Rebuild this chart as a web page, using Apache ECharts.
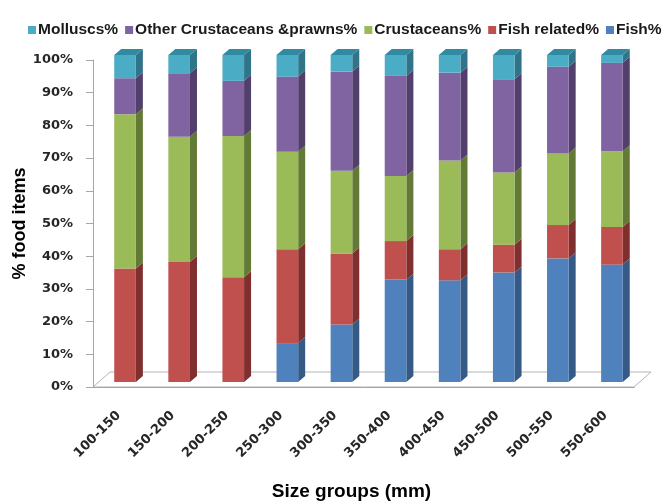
<!DOCTYPE html>
<html>
<head>
<meta charset="utf-8">
<script src="https://cdn.jsdelivr.net/npm/echarts@6/dist/echarts.min.js"></script>
<style>
    html, body { margin: 0; padding: 0; background: #fff; }
    #main { width: 664px; height: 501px; }
</style>
</head>
<body>
<div id="main"></div>
<script>
var categories = ['100-150', '150-200', '200-250', '250-300', '300-350', '350-400', '400-450', '450-500', '500-550', '550-600'];
var fish = [0, 0, 0, 11.9, 17.6, 31.3, 31.1, 33.5, 37.8, 35.9];
var fishRelated = [34.7, 36.7, 32.0, 28.7, 21.7, 11.8, 9.5, 8.5, 10.2, 11.5];
var crustaceans = [47.2, 38.3, 43.2, 29.8, 25.3, 19.9, 27.1, 22.1, 21.9, 23.2];
var otherCrust = [11.0, 19.4, 16.9, 23.0, 30.3, 30.6, 26.9, 28.5, 26.5, 27.0];
var molluscs = [7.1, 5.6, 7.9, 6.6, 5.1, 6.4, 5.4, 7.4, 3.6, 2.4];
var yTicks = [0, 10, 20, 30, 40, 50, 60, 70, 80, 90, 100];

// stack order bottom -> top
var stack = [
    {name: 'Fish%', values: fish, front: '#4f81bd', side: '#355a86'},
    {name: 'Fish related%', values: fishRelated, front: '#c0504d', side: '#7f2f2d'},
    {name: 'Crustaceans%', values: crustaceans, front: '#9bbb59', side: '#637a36'},
    {name: 'Other Crustaceans &prawns%', values: otherCrust, front: '#8064a2', side: '#523f6b'},
    {name: 'Molluscs%', values: molluscs, front: '#4bacc6', side: '#2f7488', top: '#2f8aa2'}
];

var G = {left: 93, right: 30, top: 60, bottom: 114};

function makeRender(front, side, top) {
    return function(params, api) {
        var idx = api.value(0), base = api.value(1), val = api.value(2);
        var p0 = api.coord([idx, base]);
        var p1 = api.coord([idx, base + val]);
        var band = api.size([1, 0])[0];
        var w = band * 0.4, dx = 7, dy = 6, sx = 5, sy = -5;
        var x0 = p0[0] + sx - w / 2, x1 = x0 + w;
        var yb = p0[1] + sy, yt = p1[1] + sy;
        var kids = [];
        if (val > 0) {
            kids.push({type: 'polygon', shape: {points: [[x1, yt], [x1 + dx, yt - dy], [x1 + dx, yb - dy], [x1, yb]]}, style: {fill: side}});
            kids.push({type: 'rect', shape: {x: x0, y: yt, width: w, height: yb - yt}, style: {fill: front}});
        }
        if (top) {
            kids.push({type: 'polygon', shape: {points: [[x0, yt], [x0 + dx, yt - dy], [x1 + dx, yt - dy], [x1, yt]]}, style: {fill: top}});
        }
        return {type: 'group', children: kids};
    };
}

var series = [];
var bases = categories.map(function() { return 0; });
stack.forEach(function(s) {
    var data = s.values.map(function(v, j) {
        var item = [j, bases[j], v];
        bases[j] += v;
        return item;
    });
    series.push({
        name: s.name,
        type: 'custom',
        renderItem: makeRender(s.front, s.side, s.top),
        itemStyle: {color: s.front},
        encode: {x: 0, y: 2},
        data: data
    });
});

var chart = echarts.init(document.getElementById('main'));
var fx = 664 - G.right;
var fy = 501 - G.bottom;
chart.setOption({
    animation: false,
    legend: {
        data: stack.map(function(s) { return s.name; }).reverse(),
        left: 23,
        top: 15,
        width: 660,
        icon: 'rect',
        itemWidth: 8,
        itemHeight: 8,
        itemGap: 7,
        textStyle: {
            fontFamily: '"Liberation Sans", Arial',
            fontWeight: 'bold',
            fontSize: 15.5,
            lineHeight: 20,
            color: '#1a1a1a',
            padding: [0, 0, 0, -3]
        }
    },
    grid: {left: G.left, right: G.right, top: G.top, bottom: G.bottom, outerBoundsMode: 'none'},
    graphic: [{
        type: 'polygon',
        z: 0,
        shape: {points: [[G.left, fy], [G.left + 17, fy - 15], [fx + 17, fy - 15], [fx, fy]]},
        style: {fill: 'none', stroke: '#b3b3b3', lineWidth: 1}
    }],
    xAxis: {
        type: 'category',
        data: categories,
        axisLine: {lineStyle: {color: '#a6a6a6'}},
        axisTick: {length: 7, lineStyle: {color: '#a6a6a6'}},
        axisLabel: {
            rotate: 45,
            margin: 25,
            padding: [0, 2, 0, 0],
            fontFamily: 'DejaVu Sans',
            fontWeight: 'bold',
            fontSize: 13,
            color: '#262626'
        },
        name: 'Size groups (mm)',
        nameLocation: 'middle',
        nameGap: 95,
        nameTextStyle: {
            fontFamily: '"Liberation Sans", Arial',
            fontWeight: 'bold',
            fontSize: 19,
            color: '#000',
            padding: [0, 24, 0, 0]
        }
    },
    yAxis: {
        type: 'value',
        min: yTicks[0],
        max: yTicks[yTicks.length - 1],
        interval: 10,
        splitLine: {show: false},
        axisLine: {show: true, lineStyle: {color: '#a6a6a6'}},
        axisTick: {show: true, length: 7, lineStyle: {color: '#a6a6a6'}},
        axisLabel: {
            formatter: '{value}%',
            margin: 20,
            fontFamily: 'DejaVu Sans',
            fontWeight: 'bold',
            fontSize: 13,
            color: '#262626'
        },
        name: '% food items',
        nameLocation: 'middle',
        nameGap: 64,
        nameMoveOverlap: false,
        nameTextStyle: {
            fontFamily: '"Liberation Sans", Arial',
            fontWeight: 'bold',
            fontSize: 18,
            color: '#000'
        }
    },
    series: series
});
</script>
</body>
</html>
